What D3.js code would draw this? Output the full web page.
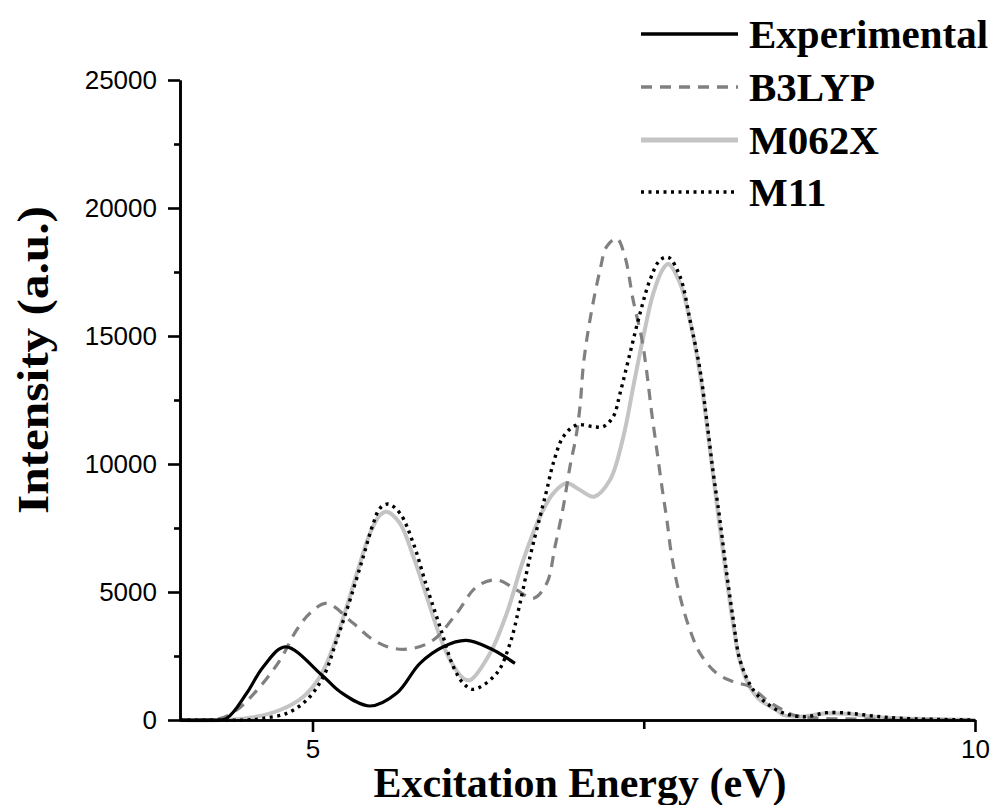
<!DOCTYPE html>
<html>
<head>
<meta charset="utf-8">
<script src="https://cdn.jsdelivr.net/npm/d3@7/dist/d3.min.js"></script>
<style>
  html, body { margin: 0; padding: 0; background: #fff; }
  svg { display: block; }
</style>
</head>
<body>
<svg id="chart" width="996" height="805"></svg>
<script>
// ---- data ----
const seriesNames = ["Experimental", "B3LYP", "M062X", "M11"];
const xMajorTicks = [5, 10];
const xMinorTicks = [7.5];
const yMajorTicks = [0, 5000, 10000, 15000, 20000, 25000];
const yMinorTicks = [2500, 7500, 12500, 17500, 22500];

const experimental = [
  [4.0,0],[4.22,0],[4.352,66],[4.503,1043],[4.629,2082],[4.795,2860],[5.07,1760],
  [5.208,1105],[5.434,547],[5.635,1043],[5.811,2215],[5.987,2863],[6.16,3110],
  [6.339,2800],[6.528,2215]
];
const b3lyp = [
  [4.0,0],[4.3,60],[4.428,390],[4.604,1300],[4.755,2344],[4.88,3516],[4.981,4167],
  [5.106,4557],[5.308,3776],[5.459,3125],[5.61,2800],[5.761,2800],[5.912,3125],
  [6.088,4167],[6.239,5208],[6.39,5469],[6.541,5078],[6.667,4753],[6.768,5339],
  [6.83,6771],[6.893,8333],[6.943,9896],[6.99,11100],[7.02,12300],[7.045,13900],
  [7.094,15625],[7.17,17578],[7.22,18490],[7.296,18815],[7.358,18100],[7.42,16400],
  [7.485,14900],[7.52,13700],[7.56,12000],[7.60,10500],[7.64,9000],[7.675,7800],
  [7.711,6400],[7.774,4818],[7.849,3516],[7.925,2604],[8.051,1823],[8.176,1497],
  [8.302,1302],[8.428,781],[8.528,456],[8.629,195],[8.83,66],[9.1,40],[9.4,20],[10,0]
];
const m062x = [
  [4.0,0],[4.3,0],[4.503,66],[4.755,390],[4.931,911],[5.057,1693],[5.157,2864],
  [5.258,4427],[5.358,6120],[5.434,7292],[5.509,8008],[5.56,8138],[5.66,7682],
  [5.761,6380],[5.862,4818],[5.962,3255],[6.038,2344],[6.138,1628],[6.19,1560],
  [6.34,2604],[6.466,4167],[6.591,6250],[6.717,7943],[6.817,8854],[6.918,9245],
  [7.019,8984],[7.125,8724],[7.245,9375],[7.346,11068],[7.421,13021],[7.497,14974],
  [7.572,16667],[7.648,17643],[7.686,17812],[7.774,17057],[7.849,15600],[7.925,13500],
  [7.975,11600],[8.025,9500],[8.075,7500],[8.126,5500],[8.176,3700],[8.226,2300],
  [8.3,1300],[8.377,781],[8.503,390],[8.553,195],[8.679,130],[8.88,260],
  [9.057,234],[9.233,130],[9.434,66],[10,0]
];
const m11 = [
  [4.0,0],[4.5,0],[4.629,66],[4.805,260],[4.956,781],[5.082,1693],[5.183,3125],
  [5.283,4688],[5.383,6380],[5.459,7682],[5.509,8268],[5.572,8437],[5.66,8073],
  [5.761,6901],[5.862,5208],[5.962,3646],[6.063,2083],[6.138,1432],[6.214,1198],
  [6.39,1823],[6.491,2994],[6.566,4557],[6.642,6380],[6.717,7943],[6.768,8984],
  [6.817,10026],[6.893,11068],[6.994,11523],[7.119,11458],[7.194,11458],[7.27,11849],
  [7.321,12760],[7.396,14323],[7.472,15885],[7.547,17187],[7.623,17969],[7.686,18073],
  [7.774,17318],[7.849,15625],[7.925,13672],[7.975,11719],[8.025,9636],[8.075,7812],
  [8.126,5729],[8.176,3906],[8.226,2344],[8.327,1172],[8.428,651],[8.528,326],
  [8.604,195],[8.73,130],[8.881,286],[9.057,260],[9.233,156],[9.434,66],[9.685,26],[10,0]
];

// ---- drawing ----
const svg = d3.select("#chart");
svg.append("rect").attr("width", 996).attr("height", 805).attr("fill", "#fff");

const x = d3.scaleLinear().domain([4, 10]).range([180, 975]);
const y = d3.scaleLinear().domain([0, 25000]).range([720, 80]);

const styles = {
  "Experimental": { color: "#000", width: 3.2, dash: null },
  "B3LYP": { color: "#808080", width: 3.2, dash: "11,8" },
  "M062X": { color: "#c4c4c4", width: 4, dash: null },
  "M11": { color: "#000", width: 3.4, dash: "3,4.5" }
};
const dataBy = { "Experimental": experimental, "B3LYP": b3lyp, "M062X": m062x, "M11": m11 };

const line = d3.line()
  .x(d => x(d[0]))
  .y(d => Math.min(720, y(d[1])))
  .curve(d3.curveCatmullRom.alpha(0.5));

["M062X", "B3LYP", "M11", "Experimental"].forEach(name => {
  const s = styles[name];
  svg.append("path")
    .datum(dataBy[name])
    .attr("d", line)
    .attr("fill", "none")
    .attr("stroke", s.color)
    .attr("stroke-width", s.width)
    .attr("stroke-dasharray", s.dash)
    .attr("stroke-linejoin", "round");
});

// axes
const tickFont = "'Liberation Sans', Arial, sans-serif";
const yAxis = d3.axisLeft(y).tickValues(yMajorTicks).tickSize(12).tickSizeOuter(0).tickPadding(11).tickFormat(d3.format("d"));
const yMinor = d3.axisLeft(y).tickValues(yMinorTicks).tickSize(6).tickSizeOuter(0).tickFormat("");
const xAxis = d3.axisBottom(x).tickValues(xMajorTicks).tickSize(12).tickSizeOuter(0).tickPadding(8).tickFormat(d3.format("d"));
const xMinor = d3.axisBottom(x).tickValues(xMinorTicks).tickSize(9).tickSizeOuter(0).tickFormat("");

function styleAxis(g) {
  g.selectAll("path.domain").attr("stroke", "#000").attr("stroke-width", 2.6);
  g.selectAll(".tick line").attr("stroke", "#000").attr("stroke-width", 2.6);
  g.selectAll(".tick text").attr("fill", "#000").style("font-family", tickFont).style("font-size", "26px");
}
svg.append("g").attr("transform", "translate(180,0)").call(yMinor).call(styleAxis);
svg.append("g").attr("transform", "translate(180,0)").call(yAxis).call(styleAxis);
svg.append("g").attr("transform", "translate(0,720)").call(xMinor).call(styleAxis);
svg.append("g").attr("transform", "translate(0,720)").call(xAxis).call(styleAxis);

// axis titles
const titleFont = "'Liberation Serif', 'Times New Roman', serif";
svg.append("text")
  .attr("x", 580).attr("y", 797)
  .attr("text-anchor", "middle")
  .style("font-family", titleFont).style("font-weight", "bold").style("font-size", "42px")
  .text("Excitation Energy (eV)");
svg.append("text")
  .attr("transform", "translate(48,360) rotate(-90)")
  .attr("text-anchor", "middle")
  .attr("textLength", 308)
  .attr("lengthAdjust", "spacingAndGlyphs")
  .style("font-family", titleFont).style("font-weight", "bold").style("font-size", "45px")
  .text("Intensity (a.u.)");

// legend
const legendY = [34, 87, 140, 192];
seriesNames.forEach((name, i) => {
  const s = styles[name];
  svg.append("line")
    .attr("x1", 641).attr("x2", 738)
    .attr("y1", legendY[i]).attr("y2", legendY[i])
    .attr("stroke", s.color)
    .attr("stroke-width", name === "M062X" ? 5 : 3.4)
    .attr("stroke-dasharray", s.dash);
  svg.append("text")
    .attr("x", 749).attr("y", legendY[i] + 14)
    .style("font-family", titleFont).style("font-weight", "bold").style("font-size", "41px")
    .attr("fill", "#000")
    .text(name);
});
</script>
</body>
</html>
